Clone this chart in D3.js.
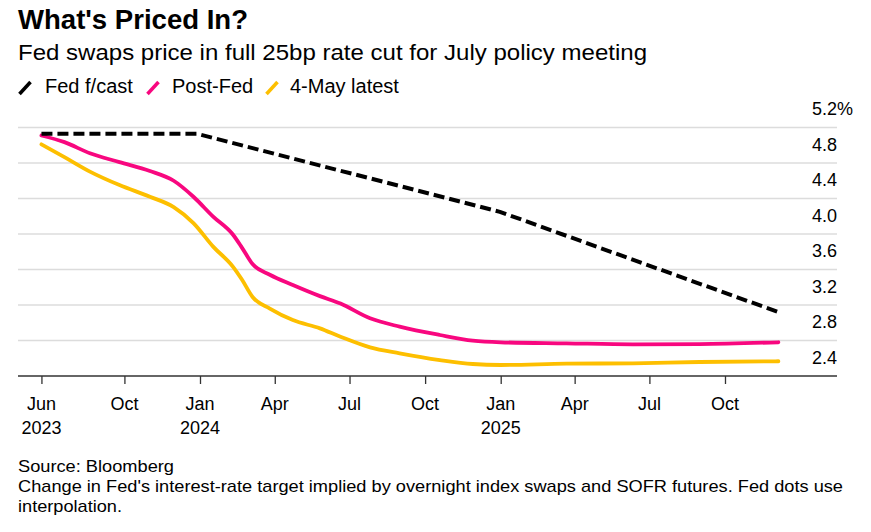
<!DOCTYPE html>
<html>
<head>
<meta charset="utf-8">
<script src="https://cdn.jsdelivr.net/npm/d3@7"></script>
<style>
  html, body { margin: 0; padding: 0; background: #fff; }
  svg { display: block; font-family: "Liberation Sans", Arial, sans-serif; }
</style>
</head>
<body>
<svg id="chart" width="871" height="532"></svg>
<script>
// ---------- data ----------
const titleText = "What's Priced In?";
const subtitleText = "Fed swaps price in full 25bp rate cut for July policy meeting";
const seriesNames = ["Fed f/cast", "Post-Fed", "4-May latest"];
const seriesColors = ["#000000", "#f8077f", "#fdbf00"];

const fedDates = ["2023-06-22", "2023-12-28", "2024-12-31", "2025-12-05"];
const fedValues = [5.13, 5.13, 4.25, 3.12];

const curveDates = [
  "2023-06-22", "2023-07-20", "2023-08-20", "2023-09-25", "2023-11-01", "2023-11-30",
  "2023-12-24", "2024-01-17", "2024-02-10", "2024-02-21", "2024-03-05", "2024-03-26",
  "2024-04-23", "2024-05-26", "2024-06-20", "2024-07-26", "2024-08-31", "2024-10-19",
  "2024-11-28", "2025-01-01", "2025-03-22", "2025-06-11", "2025-08-31", "2025-12-05"
];
const postFedValues = [
  5.11, 5.035, 4.91, 4.81, 4.71, 4.60,
  4.42, 4.196, 3.994, 3.847, 3.661, 3.541,
  3.425, 3.30, 3.216, 3.05, 2.956, 2.862,
  2.799, 2.78, 2.768, 2.757, 2.76, 2.78
];
const mayLatestValues = [
  5.01, 4.866, 4.703, 4.551, 4.42, 4.303,
  4.123, 3.858, 3.633, 3.487, 3.29, 3.16,
  3.03, 2.937, 2.843, 2.723, 2.656, 2.58,
  2.535, 2.524, 2.539, 2.543, 2.558, 2.566
];

const yTicks = [2.4, 2.8, 3.2, 3.6, 4.0, 4.4, 4.8, 5.2];
const xTickDates = ["2023-06-22", "2023-10-01", "2024-01-01", "2024-04-01", "2024-07-01",
                    "2024-10-01", "2025-01-01", "2025-04-01", "2025-07-01", "2025-10-01"];
const xTickMonths = ["Jun", "Oct", "Jan", "Apr", "Jul", "Oct", "Jan", "Apr", "Jul", "Oct"];
const xTickYears = ["2023", "", "2024", "", "", "", "2025", "", "", ""];

const sourceText = "Source: Bloomberg";
const noteLines = [
  "Change in Fed's interest-rate target implied by overnight index swaps and SOFR futures. Fed dots use",
  "interpolation."
];

// ---------- layout ----------
const parse = d3.timeParse("%Y-%m-%d");
const svg = d3.select("#chart");
const plotLeft = 18, plotRight = 837;

const x = d3.scaleTime()
  .domain([parse("2024-01-01"), parse("2025-01-01")])
  .range([200, 500.7]);
const y = d3.scaleLinear().domain([2.4, 5.2]).range([376, 127.5]);

// title / subtitle
svg.append("text").attr("x", 18).attr("y", 29)
  .attr("font-size", 27).attr("font-weight", "bold").attr("fill", "#000")
  .attr("textLength", 230).attr("lengthAdjust", "spacingAndGlyphs")
  .text(titleText);
svg.append("text").attr("x", 18).attr("y", 60)
  .attr("font-size", 22).attr("fill", "#000")
  .attr("textLength", 629).attr("lengthAdjust", "spacingAndGlyphs")
  .text(subtitleText);

// legend
const legendX = [18, 146, 265];
const legendTextX = [45, 172, 290];
seriesNames.forEach((name, i) => {
  svg.append("line")
    .attr("x1", legendX[i] + 1.5).attr("y1", 94)
    .attr("x2", legendX[i] + 12.5).attr("y2", 82)
    .attr("stroke", seriesColors[i]).attr("stroke-width", 3.5);
  svg.append("text").attr("x", legendTextX[i]).attr("y", 93)
    .attr("font-size", 20).attr("fill", "#000").text(name);
});

// gridlines + y labels
const grid = svg.append("g");
yTicks.forEach((t, i) => {
  if (t !== 2.4) {
    grid.append("line")
      .attr("x1", plotLeft).attr("x2", plotRight)
      .attr("y1", y(t)).attr("y2", y(t))
      .attr("stroke", "#dcdcdc").attr("stroke-width", 1.5);
  }
  grid.append("text")
    .attr("x", plotRight).attr("y", y(t) - 12.5)
    .attr("text-anchor", "end").attr("font-size", 18).attr("fill", "#000")
    .text(d3.format(".1f")(t));
  if (i === yTicks.length - 1) {
    grid.append("text")
      .attr("x", plotRight).attr("y", y(t) - 12.5)
      .attr("font-size", 18).attr("fill", "#000").text("%");
  }
});

// x axis
const xAxis = d3.axisBottom(x)
  .tickValues(xTickDates.map(parse))
  .tickSize(8)
  .tickFormat(() => "");
const gx = svg.append("g").attr("transform", `translate(0,${y(2.4)})`).call(xAxis);
gx.select(".domain").remove();
gx.selectAll(".tick line").attr("stroke", "#333").attr("stroke-width", 1.3);
svg.append("line")
  .attr("x1", plotLeft).attr("x2", plotRight)
  .attr("y1", y(2.4)).attr("y2", y(2.4))
  .attr("stroke", "#333").attr("stroke-width", 1.5);

xTickDates.forEach((d, i) => {
  const xx = x(parse(d));
  svg.append("text").attr("x", xx).attr("y", 409.5)
    .attr("text-anchor", "middle").attr("font-size", 18).attr("fill", "#000")
    .text(xTickMonths[i]);
  if (xTickYears[i]) {
    svg.append("text").attr("x", xx).attr("y", 433.5)
      .attr("text-anchor", "middle").attr("font-size", 18).attr("fill", "#000")
      .text(xTickYears[i]);
  }
});

// lines
const smooth = d3.line()
  .x(d => x(d.date)).y(d => y(d.value))
  .curve(d3.curveMonotoneX);
const straight = d3.line()
  .x(d => x(d.date)).y(d => y(d.value));

const mayData = curveDates.map((d, i) => ({ date: parse(d), value: mayLatestValues[i] }));
const postData = curveDates.map((d, i) => ({ date: parse(d), value: postFedValues[i] }));
const fedData = fedDates.map((d, i) => ({ date: parse(d), value: fedValues[i] }));

svg.append("path").datum(mayData).attr("d", smooth)
  .attr("fill", "none").attr("stroke", seriesColors[2]).attr("stroke-width", 3.8)
  .attr("stroke-linecap", "round").attr("stroke-linejoin", "round");
svg.append("path").datum(postData).attr("d", smooth)
  .attr("fill", "none").attr("stroke", seriesColors[1]).attr("stroke-width", 3.8)
  .attr("stroke-linecap", "round").attr("stroke-linejoin", "round");
svg.append("path").datum(fedData).attr("d", straight)
  .attr("fill", "none").attr("stroke", seriesColors[0]).attr("stroke-width", 4)
  .attr("stroke-dasharray", "11,5").attr("stroke-linejoin", "round");

// footer
svg.append("text").attr("x", 18).attr("y", 471.5)
  .attr("font-size", 17).attr("fill", "#000")
  .attr("textLength", 156).attr("lengthAdjust", "spacingAndGlyphs")
  .text(sourceText);
const noteLengths = [825, 104];
noteLines.forEach((line, i) => {
  svg.append("text").attr("x", 18).attr("y", 492 + i * 20)
    .attr("font-size", 17).attr("fill", "#000")
    .attr("textLength", noteLengths[i]).attr("lengthAdjust", "spacingAndGlyphs")
    .text(line);
});
</script>
</body>
</html>
